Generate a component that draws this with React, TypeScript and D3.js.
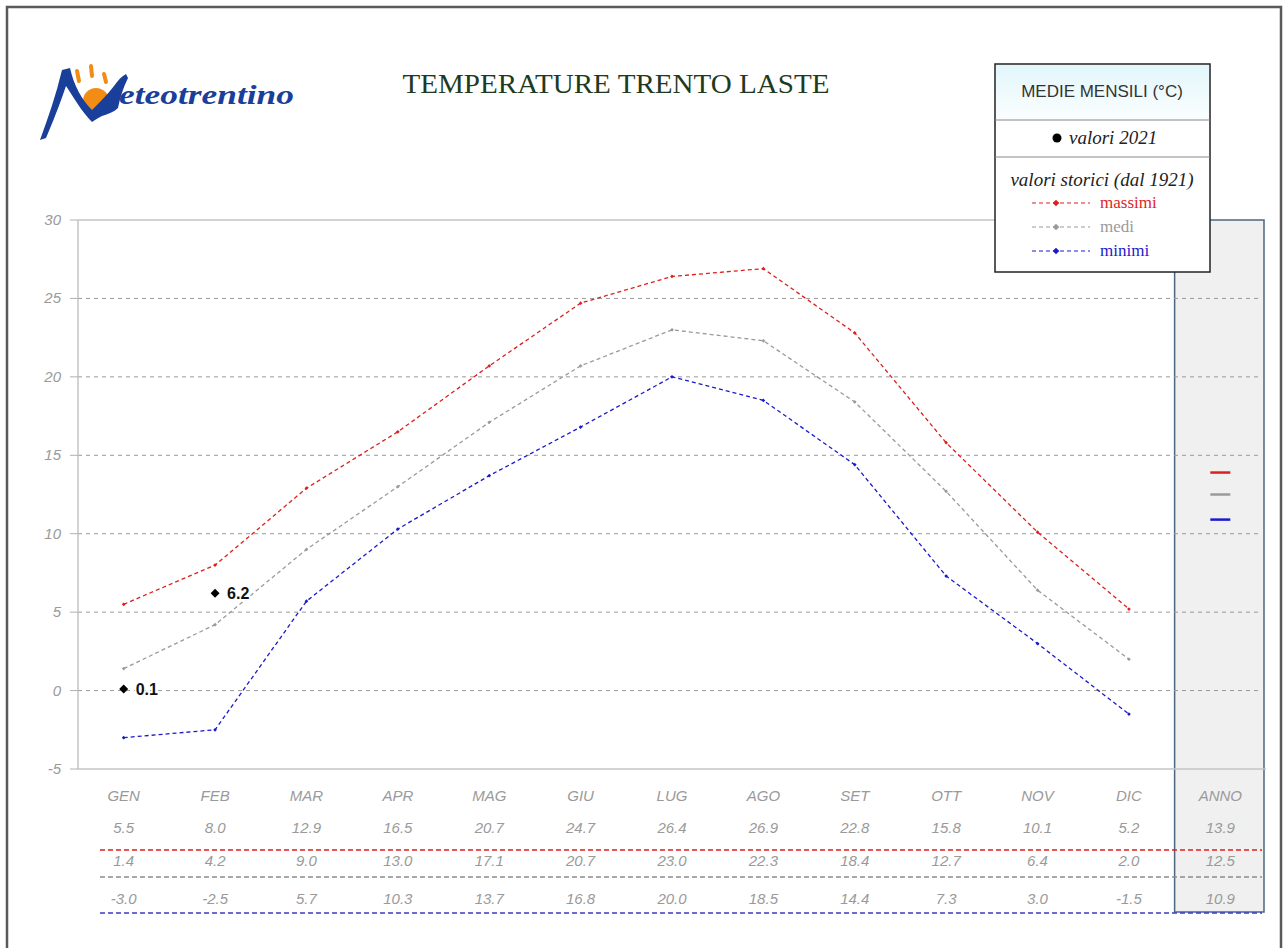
import React, { useEffect, useRef } from "react";
import * as d3 from "d3";

// Monthly values
const months = ["GEN", "FEB", "MAR", "APR", "MAG", "GIU", "LUG", "AGO", "SET", "OTT", "NOV", "DIC"];
const maxValues = [5.5, 8.0, 12.9, 16.5, 20.7, 24.7, 26.4, 26.9, 22.8, 15.8, 10.1, 5.2];
const medValues = [1.4, 4.2, 9.0, 13.0, 17.1, 20.7, 23.0, 22.3, 18.4, 12.7, 6.4, 2.0];
const minValues = [-3.0, -2.5, 5.7, 10.3, 13.7, 16.8, 20.0, 18.5, 14.4, 7.3, 3.0, -1.5];
const annoValues = [13.9, 12.5, 10.9];
const values2021 = [0.1, 6.2];
const yTicks = [-5, 0, 5, 10, 15, 20, 25, 30];

const W = 1284;
const H = 948;
const RED = "#dd1f1f";
const GRAY = "#9a9a9a";
const BLUE = "#1a1acc";
const SANS = "'Liberation Sans', Arial, sans-serif";
const SERIF = "'Liberation Serif', 'Times New Roman', serif";

// diamond = square turned 45 degrees
const diamond = (size: number) => d3.symbol(d3.symbolSquare, size)() as string;

export default function App() {
    const svgRef = useRef<SVGSVGElement | null>(null);

    useEffect(() => {
        const svg = d3.select(svgRef.current);
        svg.selectAll("*").remove();

        const left = 78, right = 1266, top = 220, bottom = 769;
        const x = d3.scaleBand<string>().domain([...months, "ANNO"]).range([left, right]);
        const cx = (m: string) => (x(m) as number) + x.bandwidth() / 2;
        const y = d3.scaleLinear().domain([-5, 30]).range([bottom, top]);

        // outer frame
        svg.append("path")
            .attr("d", `M7,${H} L7,7 L1281,7 L1281,${H}`)
            .attr("fill", "none").attr("stroke", "#5a5a5a").attr("stroke-width", 2.5);

        // ANNO column box
        const annoX = x("ANNO") as number;
        svg.append("rect")
            .attr("x", annoX).attr("y", top)
            .attr("width", x.bandwidth() - 2).attr("height", 912 - top)
            .attr("fill", "#f0f0f0").attr("stroke", "#4d667f").attr("stroke-width", 1.5);

        // grid lines
        svg.append("g").selectAll("line")
            .data(yTicks.filter(t => t > -5 && t < 30)).enter().append("line")
            .attr("x1", left).attr("x2", right - 4)
            .attr("y1", d => y(d)).attr("y2", d => y(d))
            .attr("stroke", "#999").attr("stroke-width", 1).attr("stroke-dasharray", "4,4");

        // plot frame: top, left, bottom
        svg.append("line").attr("x1", left).attr("x2", annoX).attr("y1", top).attr("y2", top)
            .attr("stroke", "#c4c4c4").attr("stroke-width", 1.5);
        svg.append("line").attr("x1", left).attr("x2", left).attr("y1", top).attr("y2", bottom)
            .attr("stroke", "#c4c4c4").attr("stroke-width", 1.5);
        svg.append("line").attr("x1", left).attr("x2", right).attr("y1", bottom).attr("y2", bottom)
            .attr("stroke", "#c4c4c4").attr("stroke-width", 1.5);

        // y axis ticks and labels
        const yAxis = svg.append("g");
        yAxis.selectAll("line").data(yTicks).enter().append("line")
            .attr("x1", left - 8).attr("x2", left).attr("y1", d => y(d)).attr("y2", d => y(d))
            .attr("stroke", "#b0b0b0").attr("stroke-width", 1);
        yAxis.selectAll("text").data(yTicks).enter().append("text")
            .attr("x", left - 17).attr("y", d => y(d) + 5)
            .attr("text-anchor", "end")
            .style("font-family", SANS).style("font-style", "italic").style("font-size", "15px")
            .attr("fill", "#9a9a9a")
            .text(d => d);

        // series
        const series = [
            { vals: maxValues, color: RED },
            { vals: medValues, color: GRAY },
            { vals: minValues, color: BLUE },
        ];
        const line = d3.line<number>()
            .x((_, i) => cx(months[i]))
            .y(d => y(d));
        series.forEach(s => {
            svg.append("path")
                .attr("d", line(s.vals) as string)
                .attr("fill", "none").attr("stroke", s.color)
                .attr("stroke-width", 1.3).attr("stroke-dasharray", "4,3");
            svg.append("g").selectAll("path").data(s.vals).enter().append("path")
                .attr("d", diamond(7))
                .attr("transform", (d, i) => `translate(${cx(months[i])},${y(d)}) rotate(45)`)
                .attr("fill", s.color);
        });

        // annual marks in ANNO column
        const annoColors = [RED, GRAY, BLUE];
        svg.append("g").selectAll("line").data(annoValues).enter().append("line")
            .attr("x1", cx("ANNO") - 10).attr("x2", cx("ANNO") + 10)
            .attr("y1", d => y(d)).attr("y2", d => y(d))
            .attr("stroke", (_, i) => annoColors[i]).attr("stroke-width", 2.5);

        // 2021 points
        const pts = svg.append("g");
        values2021.forEach((v, i) => {
            pts.append("path")
                .attr("d", diamond(40))
                .attr("transform", `translate(${cx(months[i])},${y(v)}) rotate(45)`)
                .attr("fill", "#000");
            pts.append("text")
                .attr("x", cx(months[i]) + 12).attr("y", y(v) + 6)
                .style("font-family", SANS).style("font-weight", "bold").style("font-size", "16px")
                .attr("fill", "#111")
                .attr("stroke", "#fff").attr("stroke-width", 3).attr("paint-order", "stroke")
                .text(v.toFixed(1));
        });

        // bottom table
        const table = svg.append("g")
            .style("font-family", SANS).style("font-style", "italic").style("font-size", "15px")
            .attr("fill", "#9a9a9a").attr("text-anchor", "middle");
        const cols = [...months, "ANNO"];
        table.selectAll("text.m").data(cols).enter().append("text")
            .attr("class", "m").attr("x", d => cx(d)).attr("y", 801).text(d => d);
        const rows = [
            { vals: [...maxValues, annoValues[0]], y: 833 },
            { vals: [...medValues, annoValues[1]], y: 866 },
            { vals: [...minValues, annoValues[2]], y: 904 },
        ];
        rows.forEach(r => {
            table.append("g").selectAll("text").data(r.vals).enter().append("text")
                .attr("x", (_, i) => cx(cols[i])).attr("y", r.y)
                .text(d => d.toFixed(1));
        });
        const seps = [
            { y: 850, color: RED },
            { y: 877, color: "#8c8c8c" },
            { y: 913, color: "#3a3acc" },
        ];
        svg.append("g").selectAll("line").data(seps).enter().append("line")
            .attr("x1", 100).attr("x2", right - 4)
            .attr("y1", d => d.y).attr("y2", d => d.y)
            .attr("stroke", d => d.color).attr("stroke-width", 1.3).attr("stroke-dasharray", "5,3");

        // title
        svg.append("text")
            .attr("x", 616).attr("y", 93).attr("text-anchor", "middle")
            .attr("textLength", 427).attr("lengthAdjust", "spacingAndGlyphs")
            .style("font-family", SERIF).style("font-size", "28px")
            .attr("fill", "#1e3b22")
            .text("TEMPERATURE TRENTO LASTE");

        // logo
        const logo = svg.append("g");
        logo.append("circle").attr("cx", 96).attr("cy", 101).attr("r", 13).attr("fill", "#f28c14");
        [[77, 71, 79, 81], [91, 66, 92, 76], [104, 74, 106, 82]].forEach(r => {
            logo.append("line").attr("x1", r[0]).attr("y1", r[1]).attr("x2", r[2]).attr("y2", r[3])
                .attr("stroke", "#f28c14").attr("stroke-width", 4).attr("stroke-linecap", "round");
        });
        logo.append("path")
            .attr("d", "M40,140 C48,118 56,95 62,70 L70,68 C74,86 82,100 92,110 C100,102 108,94 114,86 C118,80 122,76 126,74 L128,78 C123,88 120,98 118,108 C114,112 108,114 102,116 C98,118 95,120 92,122 C82,112 74,98 66,86 C60,104 52,124 46,138 Z")
            .attr("fill", "#1a3f9a");
        logo.append("text")
            .attr("x", 119).attr("y", 104)
            .style("font-family", SERIF).style("font-style", "italic").style("font-weight", "bold")
            .style("font-size", "27px")
            .attr("textLength", 175).attr("lengthAdjust", "spacingAndGlyphs")
            .attr("fill", "#1a3f9a")
            .text("eteotrentino");

        // legend box
        const lg = svg.append("g");
        const grad = svg.append("defs").append("linearGradient")
            .attr("id", "hdr").attr("x1", 0).attr("y1", 0).attr("x2", 0).attr("y2", 1);
        grad.append("stop").attr("offset", "0%").attr("stop-color", "#e2f6fb");
        grad.append("stop").attr("offset", "100%").attr("stop-color", "#fbfeff");
        lg.append("rect").attr("x", 995).attr("y", 64).attr("width", 215).attr("height", 208)
            .attr("fill", "#fff").attr("stroke", "#222").attr("stroke-width", 1.5);
        lg.append("rect").attr("x", 996).attr("y", 65).attr("width", 213).attr("height", 55)
            .attr("fill", "url(#hdr)");
        [120, 157].forEach(yy => {
            lg.append("line").attr("x1", 995).attr("x2", 1210).attr("y1", yy).attr("y2", yy)
                .attr("stroke", "#888").attr("stroke-width", 1);
        });
        lg.append("text").attr("x", 1102).attr("y", 97).attr("text-anchor", "middle")
            .style("font-family", SANS).style("font-size", "17px").attr("fill", "#333")
            .text("MEDIE MENSILI (°C)");
        lg.append("circle").attr("cx", 1057).attr("cy", 138).attr("r", 4.5).attr("fill", "#000");
        lg.append("text").attr("x", 1069).attr("y", 144)
            .style("font-family", SERIF).style("font-style", "italic").style("font-size", "19px")
            .attr("fill", "#222").text("valori 2021");
        lg.append("text").attr("x", 1102).attr("y", 186).attr("text-anchor", "middle")
            .style("font-family", SERIF).style("font-style", "italic").style("font-size", "19px")
            .attr("fill", "#222").text("valori storici (dal 1921)");
        const legendItems = [
            { label: "massimi", color: RED, y: 203 },
            { label: "medi", color: GRAY, y: 227 },
            { label: "minimi", color: BLUE, y: 251 },
        ];
        legendItems.forEach(it => {
            lg.append("line").attr("x1", 1032).attr("x2", 1090).attr("y1", it.y).attr("y2", it.y)
                .attr("stroke", it.color).attr("stroke-width", 1.2).attr("stroke-dasharray", "4,3");
            lg.append("path").attr("d", diamond(22))
                .attr("transform", `translate(1056,${it.y}) rotate(45)`).attr("fill", it.color);
            lg.append("text").attr("x", 1100).attr("y", it.y + 5)
                .style("font-family", SERIF).style("font-size", "17px")
                .attr("fill", it.color).text(it.label);
        });
    }, []);

    return (
        <svg ref={svgRef} width={W} height={H}
            style={{ position: "absolute", left: 0, top: 0, background: "#fff" }} />
    );
}
